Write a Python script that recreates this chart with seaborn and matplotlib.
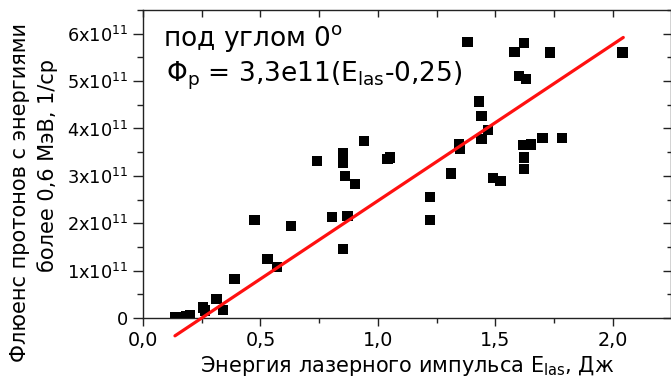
import matplotlib
matplotlib.use("Agg")
import matplotlib.pyplot as plt
import numpy as np
import pandas as pd
import seaborn as sns
from matplotlib.ticker import MultipleLocator, FixedLocator, FixedFormatter

# Laser pulse energy, J
energy = [0.135, 0.165, 0.185, 0.200, 0.255, 0.265, 0.313, 0.340, 0.390, 0.474,
          0.530, 0.570, 0.630, 0.742, 0.805, 0.852, 0.852, 0.860, 0.852, 0.870,
          0.902, 0.940, 1.040, 1.050, 1.221, 1.221, 1.311, 1.345, 1.350, 1.381,
          1.430, 1.440, 1.469, 1.440, 1.490, 1.522, 1.581, 1.621, 1.600, 1.630,
          1.618, 1.651, 1.700, 1.782, 1.621, 1.621, 1.732, 2.041]
# Proton fluence above 0.6 MeV, units of 1e11 per sr
fluence_e11 = [0.02, 0.01, 0.03, 0.06, 0.22, 0.16, 0.40, 0.17, 0.82, 2.07,
               1.24, 1.07, 1.94, 3.31, 2.13, 3.47, 3.27, 2.99, 1.46, 2.15,
               2.83, 3.74, 3.35, 3.39, 2.56, 2.07, 3.05, 3.66, 3.58, 5.82,
               4.57, 4.27, 3.97, 3.78, 2.95, 2.89, 5.62, 5.81, 5.10, 5.05,
               3.65, 3.66, 3.80, 3.80, 3.39, 3.14, 5.60, 5.60]

# Linear fit: Phi_p = 3.3e11 * (E_las - 0.25)
fit_slope = 3.3e11
fit_offset = 0.25
fit_range = [0.136, 2.044]

x_ticks = [0.0, 0.5, 1.0, 1.5, 2.0]
x_tick_labels = ["0,0", "0,5", "1,0", "1,5", "2,0"]
y_ticks_e11 = [0, 1, 2, 3, 4, 5, 6]
y_tick_labels = ["0"] + [f"{v}x10$^{{11}}$" for v in y_ticks_e11[1:]]

sns.set_theme(style="white")
plt.rcParams["font.family"] = ["DejaVu Sans"]
plt.rcParams["mathtext.fontset"] = "dejavusans"
plt.rcParams["mathtext.default"] = "regular"
plt.rcParams["text.color"] = "black"
plt.rcParams["axes.labelcolor"] = "black"
plt.rcParams["xtick.color"] = "black"
plt.rcParams["ytick.color"] = "black"

df = pd.DataFrame({"E": energy, "F": np.array(fluence_e11) * 1e11})
fit_df = pd.DataFrame({"E": fit_range,
                       "F": [fit_slope * (e - fit_offset) for e in fit_range]})

fig = plt.figure(figsize=(6.71, 3.77), dpi=100)
ax = fig.add_axes([143 / 671, 59 / 377, (670.5 - 143) / 671, (318 - 10) / 377])

sns.scatterplot(data=df, x="E", y="F", ax=ax, marker="s", s=55,
                color="black", edgecolor="none", linewidth=0, zorder=3)
sns.lineplot(data=fit_df, x="E", y="F", ax=ax, color="#ff1010",
             linewidth=2.3, clip_on=False, zorder=4)

ax.set_xlim(0, 2.245)
ax.set_ylim(0, 6.5e11)

ax.xaxis.set_major_locator(FixedLocator(x_ticks))
ax.xaxis.set_major_formatter(FixedFormatter(x_tick_labels))
ax.xaxis.set_minor_locator(MultipleLocator(0.25))
ax.yaxis.set_major_locator(FixedLocator([v * 1e11 for v in y_ticks_e11]))
ax.yaxis.set_major_formatter(FixedFormatter(y_tick_labels))
ax.yaxis.set_minor_locator(MultipleLocator(0.5e11))

ax.tick_params(axis="x", which="major", direction="out", length=6, width=1,
               color="#222222", labelcolor="black", labelsize=13.8, pad=3)
ax.tick_params(axis="x", which="minor", direction="out", length=3.5, width=1,
               color="#222222")
ax.tick_params(axis="y", which="major", direction="out", length=7, width=1,
               color="#222222", labelcolor="black", labelsize=12.8, pad=4)
ax.tick_params(axis="y", which="minor", direction="out", length=4, width=1,
               color="#222222")
ax.tick_params(bottom=True, left=True, which="both")

for side in ["left", "bottom", "top", "right"]:
    ax.spines[side].set_visible(True)
    ax.spines[side].set_color("#222222")
    ax.spines[side].set_linewidth(1.0)

# mirrored inward ticks on the top and right edges
top = ax.secondary_xaxis("top")
top.xaxis.set_major_locator(FixedLocator(x_ticks))
top.xaxis.set_minor_locator(MultipleLocator(0.25))
top.tick_params(which="both", direction="in", length=5, width=1,
                color="#222222", labeltop=False)
top.spines["top"].set_visible(False)
right = ax.secondary_yaxis("right")
right.yaxis.set_major_locator(FixedLocator([v * 1e11 for v in y_ticks_e11]))
right.yaxis.set_minor_locator(MultipleLocator(0.5e11))
right.tick_params(which="major", direction="in", length=6, width=1,
                  color="#222222", labelright=False)
right.tick_params(which="minor", direction="in", length=3, width=1,
                  color="#222222")
right.spines["right"].set_visible(False)

ax.set_xlabel("Энергия лазерного импульса E$_{las}$, Дж", fontsize=15,
              labelpad=3, color="black")
ax.set_ylabel("")

fig.text(20 / 671, 1 - 192 / 377, "Флюенс протонов с энергиями", rotation=90,
         ha="center", va="center", fontsize=15, color="black")
fig.text(48 / 671, 1 - 166 / 377, "более 0,6 МэВ, 1/ср", rotation=90,
         ha="center", va="center", fontsize=15, color="black")

fig.text(163 / 671, 1 - 46 / 377, "под углом 0$^{o}$", ha="left",
         va="baseline", fontsize=19, color="black")
fig.text(166 / 671, 1 - 82 / 377, "Φ$_{p}$ = 3,3e11(E$_{las}$-0,25)",
         ha="left", va="baseline", fontsize=19, color="black")

fig.savefig("out.png", dpi=100)
